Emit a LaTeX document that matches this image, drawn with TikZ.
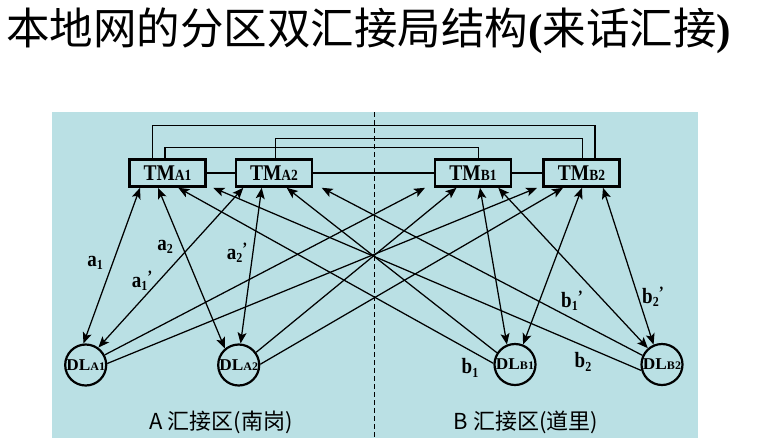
\documentclass[tikz,border=0pt]{standalone}
\usepackage{fontspec}
\setmainfont{Liberation Serif}
\newfontfamily\cjk{Noto Sans CJK SC}
\usetikzlibrary{arrows.meta}
\definecolor{panel}{RGB}{186,224,228}
\newcommand{\mylab}[2]{\scalebox{1}[1.15]{{\fontsize{19}{19}\selectfont\bfseries #1}\raisebox{-3pt}{\fontsize{12}{12}\selectfont\bfseries #2}}}
\newcommand{\mylabp}[2]{\scalebox{1}[1.15]{{\fontsize{19}{19}\selectfont\bfseries #1}\raisebox{-3pt}{\fontsize{12}{12}\selectfont\bfseries #2}\raisebox{4pt}{\fontsize{15}{15}\selectfont\bfseries '}}}
\newcommand{\tmtext}[1]{\scalebox{1}[1.15]{TM{\fontsize{13.5}{13.5}\selectfont #1}}}
\newcommand{\dltext}[1]{\makebox[0pt]{\scalebox{1.15}[1.1]{\bfseries{\fontsize{15}{15}\selectfont DL}{\fontsize{10.5}{10.5}\selectfont #1}}}}
\begin{document}
\begin{tikzpicture}[x=1pt,y=-1pt,
  >={Stealth[length=11pt,width=9pt,inset=2.5pt]},
  tmbox/.style={draw,line width=2.6pt,fill=panel,minimum width=76pt,minimum height=27pt,inner sep=0pt,
    font=\bfseries\fontsize{19.5}{19.5}\selectfont},
  dlnode/.style={draw,circle,line width=2.2pt,minimum size=41pt,inner sep=0pt,fill=panel},
  link/.style={line width=1.25pt},
  trunk/.style={line width=1.4pt},
  lbl/.style={inner sep=0pt},
  zone/.style={inner sep=0pt,font=\cjk\fontsize{22}{22}\selectfont}
]
\useasboundingbox (0,0) rectangle (759,442);
\fill[panel] (52,112) rectangle (698,438);
\coordinate (divtop) at (374,112);
\coordinate (divbot) at (374,438);
\draw[line width=0.9pt,dash pattern=on 5pt off 3pt] (divtop) -- (divbot);

% title
\node[anchor=base west,inner sep=0pt] (title) at (6,44)
  {\cjk\fontsize{43.5}{43.5}\selectfont 本地网的分区双汇接局结构{\rmfamily\bfseries(}来话汇接{\rmfamily\bfseries)}};

% tandem offices
\node[tmbox] (TMA1) at (167.5,173) {\tmtext{A1}};
\node[tmbox] (TMA2) at (274,173) {\tmtext{A2}};
\node[tmbox] (TMB1) at (473,173) {\tmtext{B1}};
\node[tmbox] (TMB2) at (581.5,173) {\tmtext{B2}};

% end offices
\node[dlnode] (DLA1) at (85.7,365) {\dltext{A1}};
\node[dlnode] (DLA2) at (238.7,365) {\dltext{A2}};
\node[dlnode] (DLB1) at (515,364.5) {\dltext{B1}};
\node[dlnode] (DLB2) at (662,364.5) {\dltext{B2}};

% trunks between tandems
\draw[trunk] (TMA1.east) -- (TMA2.west);
\draw[trunk] (TMA2.east) -- (TMB1.west);
\draw[trunk] (TMB1.east) -- (TMB2.west);
\draw[trunk] ([xshift=-14.8pt]TMA1.north) -- ++(0,-32.5) -| ([xshift=13.5pt]TMB2.north);
\draw[trunk] ([xshift=1.7pt]TMA2.north) -- ++(0,-20) -| ([xshift=0.8pt]TMB2.north);
\draw[trunk] ([xshift=-2.5pt]TMA1.north) -- ++(0,-10.8) -| ([xshift=5.3pt]TMB1.north);

% local (both directions)
\draw[link,<->] ([xshift=-27.5pt]TMA1.south) -- (DLA1.96);
\draw[link,<->] ([xshift=-30.7pt]TMA2.south) -- (DLA1.54);
\draw[link,<->] ([xshift=-9.5pt]TMA1.south) -- (DLA2.130);
\draw[link,<->] ([xshift=-12.3pt]TMA2.south) -- (DLA2.85);
\draw[link,<->] ([xshift=7pt]TMB1.south) -- (DLB1.112);
\draw[link,<->] ([xshift=0.5pt]TMB2.south) -- (DLB1.68);
\draw[link,<->] ([xshift=25.3pt]TMB1.south) -- (DLB2.131);
\draw[link,<->] ([xshift=21.5pt]TMB2.south) -- (DLB2.113);

% incoming traffic from the other zone
\draw[link,->] (DLA1.28) -- ([xshift=-48pt]TMB1.south);
\draw[link,->] (DLA1.4.5) -- ([xshift=-44.5pt]TMB2.south);
\draw[link,->] (DLA2.36.5) -- ([xshift=-16.5pt]TMB1.south);
\draw[link,->] (DLA2.2.6) -- ([xshift=-18.5pt]TMB2.south);
\draw[link,->] (DLB1.147) -- ([xshift=12.7pt]TMA2.south);
\draw[link,->] (DLB1.177) -- ([xshift=10.8pt]TMA1.south);
\draw[link,->] (DLB2.155) -- ([xshift=47.7pt]TMA2.south);
\draw[link,->] (DLB2.196) -- ([xshift=45.8pt]TMA1.south);

% labels
\node[lbl] (la1) at (95,263) {\mylab{a}{1}};
\node[lbl] (la2) at (165,247) {\mylab{a}{2}};
\node[lbl] (la1p) at (142,281) {\mylabp{a}{1}};
\node[lbl] (la2p) at (237,253) {\mylabp{a}{2}};
\node[lbl] (lb1) at (470,368) {\mylab{b}{1}};
\node[lbl] (lb2) at (583,362) {\mylab{b}{2}};
\node[lbl] (lb1p) at (572,301) {\mylabp{b}{1}};
\node[lbl] (lb2p) at (653,297) {\mylabp{b}{2}};

% zone captions
\node[zone] (zoneA) at (221,422) {A 汇接区(南岗)};
\node[zone] (zoneB) at (526,422) {B 汇接区(道里)};
\end{tikzpicture}
\end{document}
